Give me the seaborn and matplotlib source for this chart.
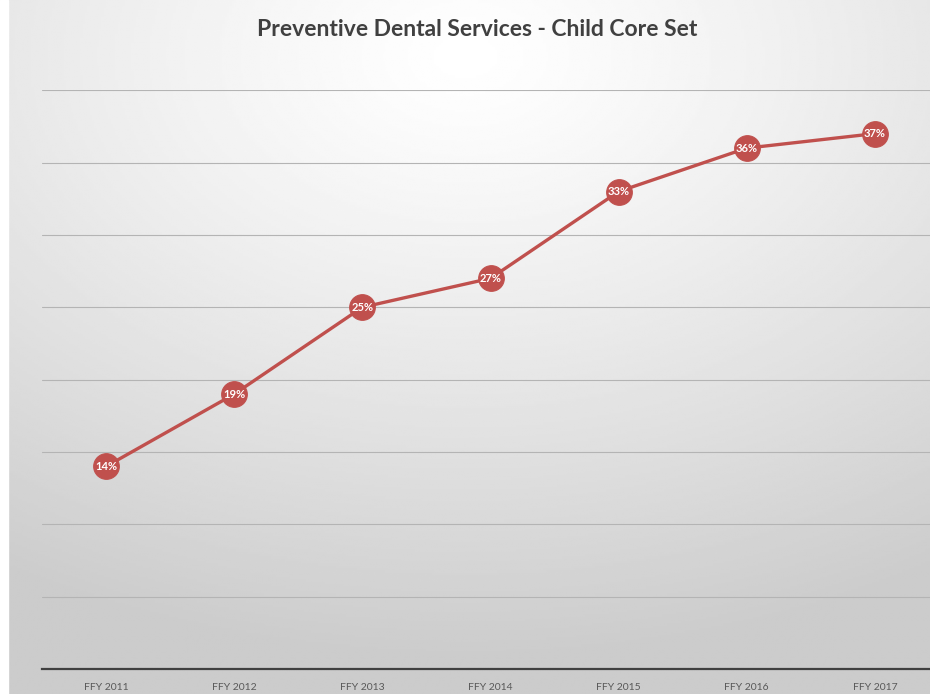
import numpy as np
import pandas as pd
import matplotlib
matplotlib.use("Agg")
import matplotlib.pyplot as plt
import seaborn as sns

# datos del grafico
years = ["FFY 2011", "FFY 2012", "FFY 2013", "FFY 2014", "FFY 2015", "FFY 2016", "FFY 2017"]
rates = [0.14, 0.19, 0.25, 0.27, 0.33, 0.36, 0.37]
title = "Preventive Dental Services - Child Core Set"

sns.set_style("white")
plt.rcParams["font.family"] = ["Lato", "DejaVu Sans"]

red = "#C0504D"

fig = plt.figure(figsize=(9.3, 6.94), dpi=100)

# fondo con degradado radial (blanco arriba al centro, gris en los bordes)
bg = fig.add_axes([0, 0, 1, 1], zorder=0)
gx, gy = np.meshgrid(np.linspace(0, 1, 400), np.linspace(0, 1, 300))
dist = np.sqrt(((gx - 0.5) * 1.0) ** 2 + ((gy - 0.92) * 1.1) ** 2)
shade = 1.0 - 0.2 * np.clip(dist / 0.95, 0, 1) ** 1.2
bg.imshow(shade, cmap="gray", vmin=0, vmax=1, extent=[0, 1, 0, 1],
          origin="lower", aspect="auto", interpolation="bilinear")
bg.add_patch(plt.Rectangle((0, 0), 0.009, 1, color="white", zorder=2))
bg.axis("off")

ax = fig.add_axes([0.0452, 0.036, 0.9645, 0.834], zorder=1)
ax.patch.set_alpha(0)

df = pd.DataFrame({"year": years, "rate": rates})
sns.lineplot(data=df, x="year", y="rate", ax=ax, color=red, lw=2.4,
             marker="o", markersize=18.5, markeredgecolor=red, sort=False)

for i, v in enumerate(rates):
    ax.text(i, v, f"{v:.0%}", ha="center", va="center", color="white",
            fontsize=8, fontweight="bold", zorder=5)

ax.set_xlim(-0.5, 6.5)
ax.set_ylim(0, 0.40)
ax.set_yticks(np.arange(0, 0.41, 0.05))
ax.yaxis.grid(True, color="#b4b4b4", lw=0.8)
ax.set_axisbelow(True)
ax.tick_params(axis="y", left=False, labelleft=False)
ax.tick_params(axis="x", bottom=False, length=0, labelsize=7.5,
               labelcolor="#595959", pad=10)
for s in ["top", "right", "left"]:
    ax.spines[s].set_visible(False)
ax.spines["bottom"].set_color("#404040")
ax.spines["bottom"].set_linewidth(1.6)
ax.set_xlabel("")
ax.set_ylabel("")

fig.text(0.513, 0.958, title, ha="center", va="center", fontsize=16.5,
         fontweight="bold", color="#404040")

fig.savefig("out.png", dpi=100)
